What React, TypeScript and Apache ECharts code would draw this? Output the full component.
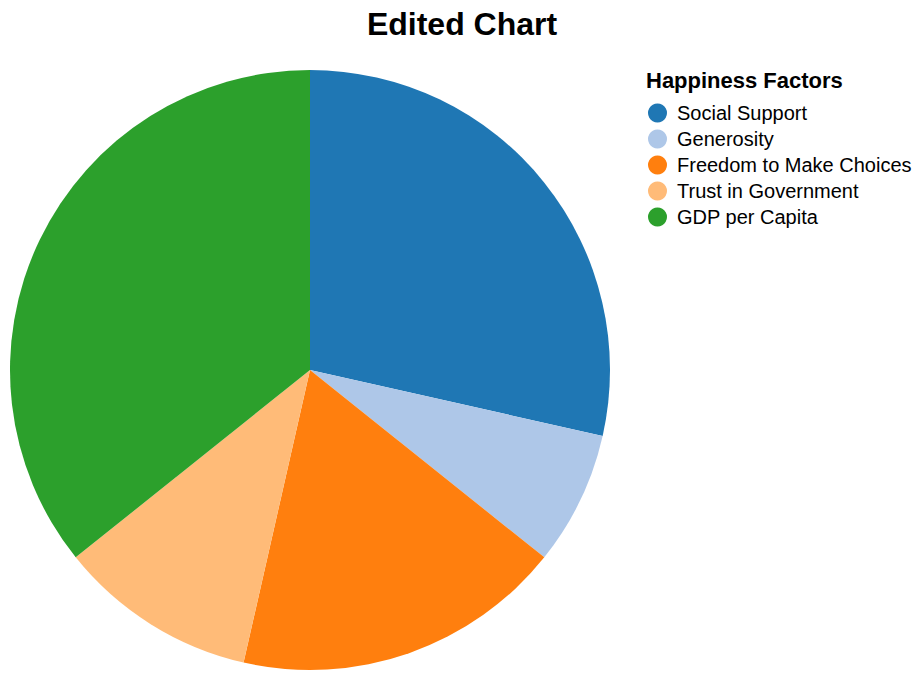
import React, { useEffect, useRef } from "react";
import * as echarts from "echarts";

const categories = [
  "Social Support",
  "Generosity",
  "Freedom to Make Choices",
  "Trust in Government",
  "GDP per Capita",
];
const values = [28.5, 7.2, 17.8, 10.7, 35.7];
const colors = ["#1f77b4", "#aec7e8", "#ff7f0e", "#ffbb78", "#2ca02c"];

const FONT = "'Liberation Sans', Arial, Helvetica, sans-serif";

export default function App() {
  const ref = useRef<HTMLDivElement>(null);
  useEffect(() => {
    if (!ref.current) return;
    const chart = echarts.init(ref.current, undefined, { renderer: "svg" });
    chart.setOption({
      animation: false,
      backgroundColor: "#ffffff",
      title: [
        {
          text: "Edited Chart",
          left: "center",
          top: 8,
          padding: 0,
          textStyle: { fontFamily: FONT, fontSize: 32, fontWeight: "bold", color: "#000", lineHeight: 32 },
        },
        {
          text: "Happiness Factors",
          left: 646,
          top: 69,
          padding: 0,
          textStyle: { fontFamily: FONT, fontSize: 22, fontWeight: "bold", color: "#000", lineHeight: 22 },
        },
      ],
      legend: {
        orient: "vertical",
        left: 648,
        top: 103,
        padding: 0,
        icon: "circle",
        itemWidth: 29,
        itemHeight: 19,
        itemGap: 6,
        selectedMode: false,
        data: categories,
        textStyle: { fontFamily: FONT, fontSize: 20, color: "#000", lineHeight: 20 },
      },
      series: [
        {
          type: "pie",
          center: [310, 370],
          radius: 300,
          startAngle: 90,
          clockwise: true,
          avoidLabelOverlap: false,
          label: { show: false },
          labelLine: { show: false },
          emphasis: { disabled: true },
          itemStyle: { borderWidth: 0 },
          data: categories.map((name, i) => ({
            name,
            value: values[i],
            itemStyle: { color: colors[i] },
          })),
        },
      ],
    });
    return () => chart.dispose();
  }, []);
  return (
    <div
      ref={ref}
      style={{ position: "fixed", left: 0, top: 0, width: 924, height: 680 }}
    />
  );
}
